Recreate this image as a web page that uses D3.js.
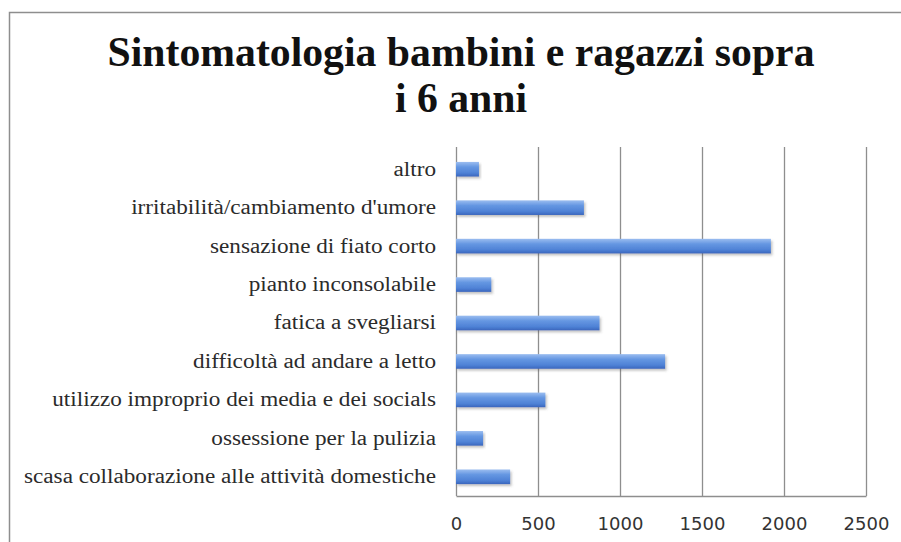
<!DOCTYPE html>
<html>
<head>
<meta charset="utf-8">
<script src="https://cdn.jsdelivr.net/npm/d3@7"></script>
<style>
  html, body { margin: 0; padding: 0; background: #fff; }
  svg { display: block; }
</style>
</head>
<body>
<svg id="chart" width="901" height="542"></svg>
<script>
// Categories, listed top to bottom
const categories = [
  "altro",
  "irritabilità/cambiamento d'umore",
  "sensazione di fiato corto",
  "pianto inconsolabile",
  "fatica a svegliarsi",
  "difficoltà ad andare a letto",
  "utilizzo improprio dei media e dei socials",
  "ossessione per la pulizia",
  "scasa collaborazione alle attività domestiche"
];
// Number of reports for each category
const values = [140, 780, 1920, 215, 875, 1275, 545, 165, 330];
const xTicks = [0, 500, 1000, 1500, 2000, 2500];
const titleLines = ["Sintomatologia bambini e ragazzi sopra", "i 6 anni"];

const svg = d3.select("#chart");

// outer frame
svg.append("rect")
  .attr("x", 9.5).attr("y", 12.5)
  .attr("width", 905).attr("height", 560)
  .attr("fill", "#fff")
  .attr("stroke", "#8e8e8e")
  .attr("stroke-width", 1.5);

const defs = svg.append("defs");
const grad = defs.append("linearGradient")
  .attr("id", "barFill").attr("x1", 0).attr("y1", 0).attr("x2", 0).attr("y2", 1);
grad.append("stop").attr("offset", "0%").attr("stop-color", "#9bbdf0");
grad.append("stop").attr("offset", "35%").attr("stop-color", "#6597e2");
grad.append("stop").attr("offset", "75%").attr("stop-color", "#4f82d6");
grad.append("stop").attr("offset", "100%").attr("stop-color", "#3a66bd");

const shadow = defs.append("filter").attr("id", "barShadow")
  .attr("x", "-5%").attr("y", "-30%").attr("width", "115%").attr("height", "180%");
shadow.append("feDropShadow")
  .attr("dx", 1.5).attr("dy", 2).attr("stdDeviation", 1.3)
  .attr("flood-color", "#555").attr("flood-opacity", 0.35);

const x = d3.scaleLinear().domain([0, 2500]).range([456, 866]);
const y = d3.scaleBand().domain(categories).range([150, 496])
  .paddingInner(0.62).paddingOuter(0.31);
const plotTop = 147, plotBottom = 496;

// value axis with gridlines
const xAxis = svg.append("g")
  .attr("transform", `translate(0,${plotBottom})`)
  .call(d3.axisBottom(x).tickValues(xTicks).tickFormat(d3.format("d"))
    .tickSizeInner(-(plotBottom - plotTop)).tickSizeOuter(0).tickPadding(21));
xAxis.select(".domain").attr("stroke", "#8e8e8e").attr("stroke-width", 1.3);
xAxis.selectAll(".tick line").attr("stroke", "#8e8e8e").attr("stroke-width", 1.3);
xAxis.selectAll(".tick text")
  .attr("font-family", "'DejaVu Sans', sans-serif")
  .attr("font-size", 18)
  .attr("fill", "#333");

// bars
svg.append("g").selectAll("rect")
  .data(categories)
  .join("rect")
  .attr("x", x(0))
  .attr("y", d => y(d))
  .attr("width", (d, i) => x(values[i]) - x(0))
  .attr("height", y.bandwidth())
  .attr("fill", "url(#barFill)")
  .attr("filter", "url(#barShadow)");

// category axis
const yAxis = svg.append("g")
  .attr("transform", `translate(${x(0)},0)`)
  .call(d3.axisLeft(y).tickSize(0).tickPadding(20));
yAxis.select(".domain").remove();
const labels = yAxis.selectAll(".tick text")
  .attr("font-family", "'Liberation Serif', serif")
  .attr("font-size", 20)
  .attr("fill", "#2b2b2b");
// fit the serif labels uniformly so the longest spans 412px
let widest = 0;
labels.each(function() { widest = Math.max(widest, this.getComputedTextLength()); });
const k = 412 / widest;
labels.each(function() {
  d3.select(this)
    .attr("textLength", this.getComputedTextLength() * k)
    .attr("lengthAdjust", "spacingAndGlyphs");
});

// title
const title = svg.append("g").selectAll("text")
  .data(titleLines)
  .join("text")
  .attr("x", 461)
  .attr("y", (d, i) => 66 + i * 45.7)
  .attr("text-anchor", "middle")
  .attr("font-family", "'Liberation Serif', serif")
  .attr("font-weight", "bold")
  .attr("font-size", 42)
  .attr("fill", "#111")
  .text(d => d);
const tk = 707 / title.nodes()[0].getComputedTextLength();
title.each(function() {
  d3.select(this)
    .attr("textLength", this.getComputedTextLength() * tk)
    .attr("lengthAdjust", "spacingAndGlyphs");
});
</script>
</body>
</html>
